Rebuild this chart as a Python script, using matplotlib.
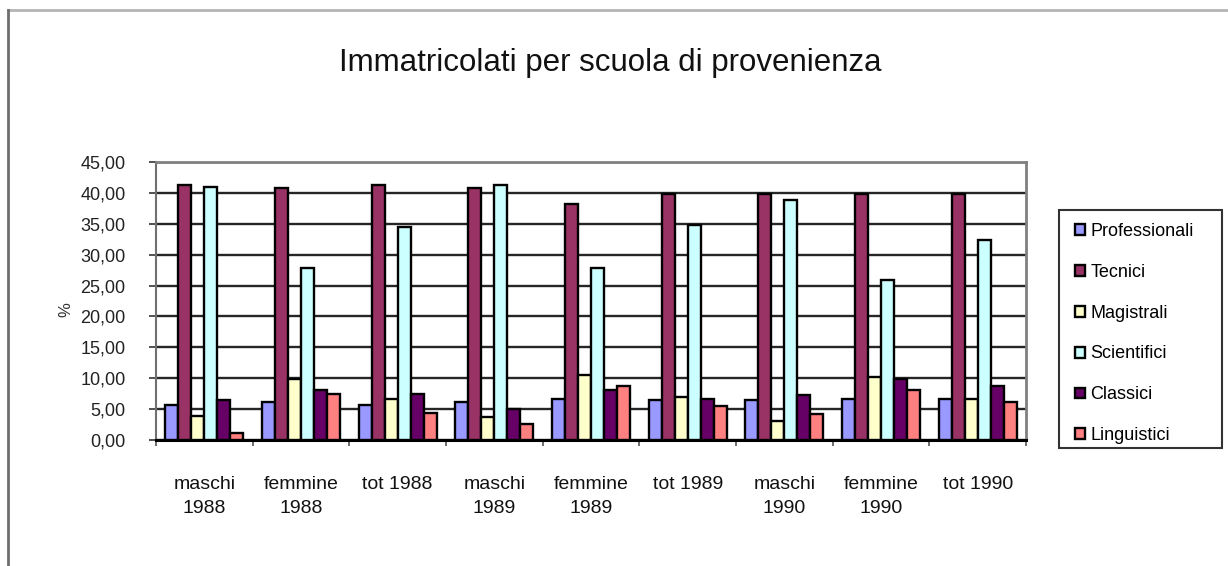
import matplotlib
matplotlib.use("Agg")
import matplotlib.pyplot as plt
from matplotlib.lines import Line2D
from matplotlib.patches import Rectangle
from matplotlib.ticker import FuncFormatter, FixedLocator
import numpy as np

plt.rcParams['font.family'] = ['Liberation Sans', 'DejaVu Sans']

# groups on the x axis
categories = ["maschi\n1988", "femmine\n1988", "tot 1988",
              "maschi\n1989", "femmine\n1989", "tot 1989",
              "maschi\n1990", "femmine\n1990", "tot 1990"]

# percentages per type of school
professionali = [5.7, 6.1, 5.7, 6.1, 6.7, 6.5, 6.5, 6.7, 6.7]
tecnici       = [41.2, 40.8, 41.3, 40.8, 38.2, 39.8, 39.8, 39.8, 39.8]
magistrali    = [3.9, 9.8, 6.7, 3.8, 10.5, 6.9, 3.1, 10.2, 6.7]
scientifici   = [40.9, 27.9, 34.4, 41.3, 27.9, 34.8, 38.8, 25.9, 32.3]
classici      = [6.5, 8.1, 7.4, 5.0, 8.1, 6.7, 7.3, 9.8, 8.7]
linguistici   = [1.2, 7.4, 4.4, 2.6, 8.7, 5.5, 4.2, 8.1, 6.2]

series_names = ["Professionali", "Tecnici", "Magistrali",
                "Scientifici", "Classici", "Linguistici"]
series_colors = ["#9999FF", "#993366", "#FFFFCC", "#CCFFFF", "#660066", "#FF8080"]
series = [professionali, tecnici, magistrali, scientifici, classici, linguistici]

W, H = 1228, 566
fig = plt.figure(figsize=(W / 100, H / 100), dpi=100)
fig.patch.set_facecolor("white")

ax = fig.add_axes([156 / W, 1 - 440 / H, (1026 - 156) / W, (440 - 162) / H])

x = np.arange(len(categories))
bw = 0.135
for i, (name, vals, col) in enumerate(zip(series_names, series, series_colors)):
    off = (i - 2.5) * bw
    ax.bar(x + off, vals, bw, color=col, edgecolor="black", linewidth=1.7,
           label=name, zorder=3)

ax.set_xlim(-0.5, len(categories) - 0.5)
ax.set_ylim(0, 45)
ax.set_yticks(np.arange(0, 46, 5))
ax.yaxis.set_major_formatter(FuncFormatter(lambda v, p: ("%.2f" % v).replace(".", ",")))
ax.yaxis.grid(True, color="#262626", linewidth=1.7, zorder=0)
ax.set_axisbelow(True)

ax.set_xticks(x)
ax.set_xticklabels(categories, linespacing=1.55)
ax.xaxis.set_minor_locator(FixedLocator(np.arange(-0.5, len(categories), 1.0)))
ax.tick_params(axis="x", which="major", length=0, pad=26, labelsize=14, labelcolor="#111111")
ax.tick_params(axis="x", which="minor", length=4, width=1.2, color="#555555", direction="out")
ax.tick_params(axis="y", length=5, width=1.2, color="#333333", labelsize=13,
               labelcolor="#222222", pad=17)

for side in ("top", "right"):
    ax.spines[side].set_color("#808080")
    ax.spines[side].set_linewidth(2)
ax.spines["left"].set_color("#707070")
ax.spines["left"].set_linewidth(1.5)
ax.spines["bottom"].set_color("black")
ax.spines["bottom"].set_linewidth(2.2)

fig.text(610 / W, 1 - 63 / H, "Immatricolati per scuola di provenienza",
         ha="center", va="center", fontsize=22.5, color="#111111")
fig.text(66 / W, 1 - 310 / H, "%", rotation=90, ha="center", va="center",
         fontsize=12, color="#333333")

# legend without its own frame, box drawn separately
leg = ax.legend(loc="upper left", bbox_to_anchor=(1075 / W, 1 - 223 / H),
                bbox_transform=fig.transFigure, borderaxespad=0, borderpad=0,
                fontsize=13, handlelength=0.55, handleheight=0.55,
                handletextpad=0.3, labelspacing=1.32, frameon=False)
fig.add_artist(Rectangle((1059 / W, 1 - 448 / H), (1222 - 1059) / W, (448 - 210) / H,
                         transform=fig.transFigure, facecolor="none",
                         edgecolor="#333333", linewidth=1.5))

# outer chart border
fig.add_artist(Line2D([8 / W, 1], [1 - 10 / H, 1 - 10 / H], transform=fig.transFigure,
                      color="#b4b4b4", linewidth=2))
fig.add_artist(Line2D([8 / W, 8 / W], [0, 1 - 10 / H], transform=fig.transFigure,
                      color="#6e6e6e", linewidth=2))

fig.savefig("out.png", dpi=100)
